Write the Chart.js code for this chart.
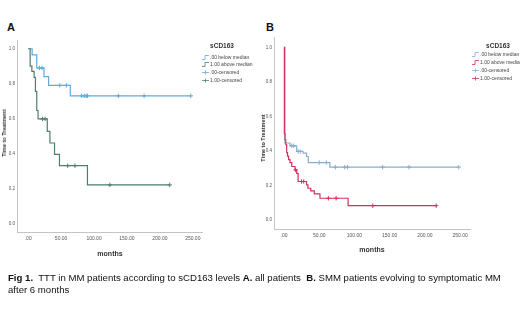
<!DOCTYPE html>
<html><head><meta charset="utf-8">
<script src="https://cdn.jsdelivr.net/npm/chart.js@4.4.0/dist/chart.umd.min.js"></script>
<style>
html,body{margin:0;padding:0;background:#fff;}
body{width:520px;height:315px;position:relative;overflow:hidden;font-family:"Liberation Sans",Arial,sans-serif;color:#222;}
.abs{position:absolute;white-space:nowrap;}
.letter{font-weight:bold;font-size:11px;color:#111;}
.ytitle{font-size:5.5px;font-weight:bold;color:#333;transform:translate(-50%,-50%) rotate(-90deg);}
.xtitle{font-size:7px;font-weight:bold;color:#333;transform:translate(-50%,-50%);}
.legtitle{font-size:6.5px;font-weight:bold;color:#333;transform:translate(-50%,-50%);}
.legitem{font-size:5px;color:#444;transform:translateY(-50%);display:flex;align-items:center;}
.legitem svg{margin-right:1px;}
.caption{font-size:9.6px;color:#111;line-height:12px;}
</style></head>
<body>
<div class="abs letter" style="left:7px;top:21px;">A</div>
<div class="abs letter" style="left:266px;top:21px;">B</div>
<div style="position:absolute;left:0;top:0;width:260px;height:260px;"><canvas id="cA" width="260" height="260"></canvas></div>
<div style="position:absolute;left:250px;top:0;width:270px;height:260px;"><canvas id="cB" width="270" height="260"></canvas></div>
<div class="abs ytitle" style="left:4px;top:133px;">Time to Treatment</div>
<div class="abs ytitle" style="left:263px;top:138px;">Time to Treatment</div>
<div class="abs xtitle" style="left:110px;top:253px;">months</div>
<div class="abs xtitle" style="left:372px;top:249px;">months</div>
<div id="legA"></div>
<div id="legB"></div>
<div class="abs caption" style="left:8px;top:272px;"><b>Fig 1.</b>&nbsp; TTT in MM patients according to sCD163 levels <b>A.</b> all patients&nbsp; <b>B.</b> SMM patients evolving to symptomatic MM<br>after 6 months</div>
<script>
// ---- data ----
const legendTitle = "sCD163";
const legendLabels = [".00 below median", "1.00 above median", ".00-censored", "1.00-censored"];
const xTicks = [0, 50, 100, 150, 200, 250];
const yTicks = [0, 0.2, 0.4, 0.6, 0.8, 1.0];

// Panel A (all patients)
const timesAblue = [0, 6, 13, 24, 31, 64, 247];
const survAblue  = [1.0, 0.965, 0.89, 0.84, 0.79, 0.73, 0.73];
const censorAblue = [17, 21, 48, 58, 81, 85, 88, 90, 137, 176, 247];
const timesAgreen = [0, 3, 5.6, 9, 11, 13, 15, 29, 33, 40, 47.5, 90, 215];
const survAgreen  = [1.0, 0.90, 0.87, 0.836, 0.756, 0.646, 0.598, 0.527, 0.46, 0.395, 0.33, 0.22, 0.22];
const censorAgreen = [21.7, 25.7, 60, 71, 124, 215];

// Panel B (SMM patients)
const timesBblue = [0, 1.4, 8.5, 18, 27, 32, 34.5, 65, 248];
const survBblue  = [1.0, 0.446, 0.43, 0.397, 0.388, 0.368, 0.333, 0.306, 0.306];
const censorBblue = [11, 14, 20, 23, 50, 60, 73, 86, 90, 140, 177.5, 248];
const timesBred = [0, 0.5, 1.4, 2.5, 3.8, 5, 6.5, 8.5, 11, 15.6, 18, 20, 32, 34, 38, 43, 51, 91, 216];
const survBred  = [1.0, 0.50, 0.465, 0.436, 0.39, 0.37, 0.35, 0.333, 0.31, 0.29, 0.27, 0.223, 0.203, 0.184, 0.169, 0.151, 0.126, 0.083, 0.083];
const censorBred = [16.5, 25, 28, 63, 74, 126, 216];

// ---- styles ----
const colAblue = "#5aaedc", colAgreen = "#4f7d6f";
const colBblue = "#86aed0", colBred = "#d42f5e";

function survAt(times, surv, t){ let v = surv[0]; for(let i=0;i<times.length;i++){ if(times[i] <= t) v = surv[i]; } return v; }
function stepDs(times, surv, color, order){
  return {data: times.map((t,i)=>({x:t,y:surv[i]})), showLine:true, stepped:true, borderColor:color, borderWidth:1.2, pointRadius:0, fill:false, order:order};
}
function censDs(times, surv, cens, color, order){
  return {data: cens.map(t=>({x:t,y:survAt(times,surv,t)})), showLine:false, pointStyle:'cross', pointRadius:2.2, borderColor:color, borderWidth:1, order:order};
}
function makeChart(id, datasets, yW, xH, pad, xMin, xMax, yMin, yMax){
  return new Chart(document.getElementById(id), {
    type:'scatter',
    data:{datasets},
    options:{
      responsive:false, animation:false, devicePixelRatio:1,
      layout:{padding:pad},
      plugins:{legend:{display:false}, tooltip:{enabled:false}},
      scales:{
        x:{type:'linear', min:xMin, max:xMax,
           grid:{display:false, drawTicks:false, tickLength:0}, border:{display:true,color:'#c4c4c4',width:1},
           afterBuildTicks: s=>{ s.ticks = xTicks.map(v=>({value:v})); },
           afterFit: s=>{ s.height = xH; },
           ticks:{padding:4, color:'#555', font:{size:5, family:'"Liberation Sans", Arial'}, maxRotation:0, autoSkip:false,
             callback: v => v===0 ? '.00' : Number(v).toFixed(2)}},
        y:{type:'linear', min:yMin, max:yMax,
           grid:{display:false, drawTicks:false, tickLength:0}, border:{display:true,color:'#c4c4c4',width:1},
           afterBuildTicks: s=>{ s.ticks = yTicks.map(v=>({value:v})); },
           afterFit: s=>{ s.width = yW; },
           ticks:{padding:2, color:'#555', font:{size:4.5, family:'"Liberation Sans", Arial'}, autoSkip:false,
             callback: v => Number(v).toFixed(1)}}
      }
    }
  });
}
makeChart('cA', [
  stepDs(timesAgreen, survAgreen, colAgreen, 1),
  stepDs(timesAblue, survAblue, colAblue, 2),
  censDs(timesAgreen, survAgreen, censorAgreen, colAgreen, 0),
  censDs(timesAblue, survAblue, censorAblue, colAblue, 0)
], 17, 14, {left:0, right:58, top:40, bottom:14}, -17, 264, -0.05, 1.05);

makeChart('cB', [
  stepDs(timesBred, survBred, colBred, 1),
  stepDs(timesBblue, survBblue, colBblue, 2),
  censDs(timesBred, survBred, censorBred, colBred, 0),
  censDs(timesBblue, survBblue, censorBblue, colBblue, 0)
], 24, 14, {left:0, right:50, top:37, bottom:17}, -14.2, 264, -0.052, 1.06);

// ---- legends ----
function symbol(kind, color){
  if(kind==='line') return `<svg width="7" height="5"><polyline points="0,4.5 3,4.5 3,0.5 7,0.5" fill="none" stroke="${color}" stroke-width="0.8"/></svg>`;
  return `<svg width="7" height="5"><line x1="0" y1="2.5" x2="7" y2="2.5" stroke="${color}" stroke-width="0.8"/><line x1="3.5" y1="0.5" x2="3.5" y2="4.5" stroke="${color}" stroke-width="0.8"/></svg>`;
}
function buildLegend(elId, cx, cy, sx, rowYs, colors){
  const el = document.getElementById(elId);
  let h = `<div class="abs legtitle" style="left:${cx}px;top:${cy}px;">${legendTitle}</div>`;
  const kinds = ['line','line','cens','cens'];
  legendLabels.forEach((lab,i)=>{
    h += `<div class="abs legitem" style="left:${sx}px;top:${rowYs[i]}px;">${symbol(kinds[i], colors[i])}<span>${lab}</span></div>`;
  });
  el.innerHTML = h;
}
buildLegend('legA', 222, 45, 202, [57, 64, 72, 80], [colAblue, colAgreen, colAblue, colAgreen]);
buildLegend('legB', 498, 45, 472, [54, 62, 70, 78], [colBblue, colBred, colBblue, colBred]);
</script>
</body></html>
